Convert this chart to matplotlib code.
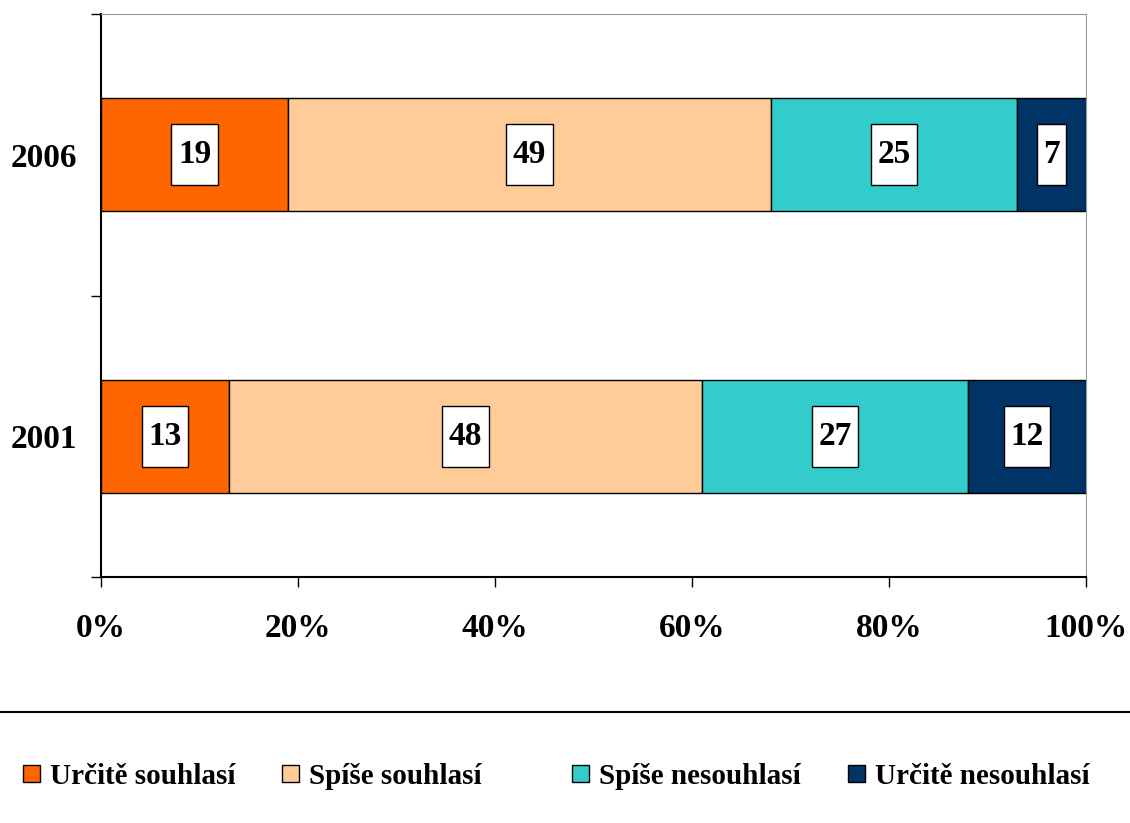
import numpy as np
import matplotlib.pyplot as plt
from matplotlib.lines import Line2D
from matplotlib.patches import Rectangle

plt.rcParams['font.family'] = ['Liberation Serif', 'DejaVu Serif']
plt.rcParams['font.weight'] = 'bold'

years = ['2001', '2006']
series = ['Určitě souhlasí', 'Spíše souhlasí', 'Spíše nesouhlasí', 'Určitě nesouhlasí']
values = {
    'Určitě souhlasí': [13, 19],
    'Spíše souhlasí': [48, 49],
    'Spíše nesouhlasí': [27, 25],
    'Určitě nesouhlasí': [12, 7],
}
colors = ['#FF6600', '#FFCC99', '#33CCCC', '#003366']

W, H = 1130, 823
fig = plt.figure(figsize=(W / 100, H / 100), dpi=100)
ax = fig.add_axes([101/W, 1 - 577/H, (1086-101)/W, (577-14)/H])

y = np.arange(len(years))
left = np.zeros(len(years))
labels = []
for s, c in zip(series, colors):
    v = np.array(values[s], dtype=float)
    ax.barh(y, v, left=left, height=0.4, color=c, edgecolor='black', linewidth=1, label=s)
    for yi, (l, vi) in enumerate(zip(left, v)):
        t = ax.text(l + vi / 2, yi, str(int(vi)), ha='center', va='center',
                    fontsize=24, fontweight='bold', zorder=5)
        labels.append(t)
    left += v

ax.set_xlim(0, 100)
ax.set_ylim(-0.5, 1.5)
ax.set_xticks(np.arange(0, 101, 20))
ax.set_xticklabels([f'{t}%' for t in range(0, 101, 20)], fontsize=24, fontweight='bold')
ax.set_yticks([-0.5, 0.5, 1.5])
ax.set_yticklabels([])
ax.set_yticks(y, minor=True)
ax.set_yticklabels(years, minor=True, fontsize=24, fontweight='bold')
ax.tick_params(axis='y', which='minor', length=0, pad=17)
ax.tick_params(axis='y', which='major', length=7, width=1)
ax.tick_params(axis='x', length=7, width=1, pad=19)
ax.spines['top'].set_color('#999999')
ax.spines['right'].set_color('#999999')
for sp in ['left', 'bottom']:
    ax.spines[sp].set_linewidth(1.5)

# white label boxes: text width + padding, fixed height
fig.canvas.draw()
r = fig.canvas.get_renderer()
inv = ax.transData.inverted()
for t in labels:
    bb = t.get_window_extent(r)
    cx, cy = (bb.x0 + bb.x1) / 2, (bb.y0 + bb.y1) / 2
    w = bb.width + 13
    h = 61
    (x0, y0), (x1, y1) = inv.transform([(cx - w / 2, cy - h / 2), (cx + w / 2, cy + h / 2)])
    ax.add_patch(Rectangle((x0, y0), x1 - x0, y1 - y0, facecolor='white',
                           edgecolor='black', linewidth=1, zorder=4))

fig.add_artist(Line2D([0, 1], [1 - 712/H, 1 - 712/H], color='black', linewidth=1.5))

# legend entries
leg_x = [23, 282, 572, 848]
leg_y = 773
sq = 17
for s, c, lx in zip(series, colors, leg_x):
    fig.add_artist(Rectangle((lx / W, 1 - (leg_y + sq / 2) / H), sq / W, sq / H,
                             facecolor=c, edgecolor='black', linewidth=1,
                             transform=fig.transFigure))
    fig.text((lx + sq + 10) / W, 1 - leg_y / H, s, ha='left', va='center_baseline',
             fontsize=21, fontweight='bold')

fig.savefig('out.png', dpi=100)
